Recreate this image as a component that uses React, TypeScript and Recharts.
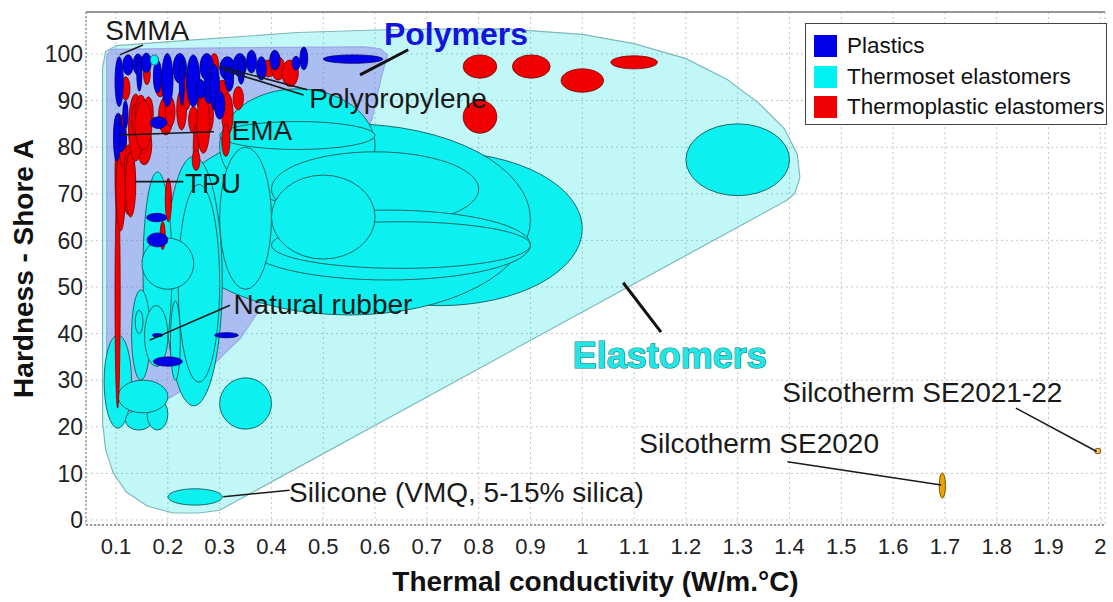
import React from 'react';
import { ScatterChart, Scatter, XAxis, YAxis, CartesianGrid, ReferenceLine } from 'recharts';

// ellipse boxes are [xMin, xMax, yMin, yMax] in data units
type Box = [number, number, number, number];
type Pt = [number, number];

const X_MIN = 0.042;
const X_MAX = 2.009;
const Y_MIN = -1.07;
const Y_MAX = 109;

const xTicks = [0.1, 0.2, 0.3, 0.4, 0.5, 0.6, 0.7, 0.8, 0.9, 1, 1.1, 1.2, 1.3, 1.4, 1.5, 1.6, 1.7, 1.8, 1.9, 2];
const yTicks = [0, 10, 20, 30, 40, 50, 60, 70, 80, 90, 100];

const elastomerHull: Pt[] = [
  [0.074, 97], [0.08, 100.5], [0.1, 101.8], [0.25, 103], [0.45, 104.6], [0.65, 105.3],
  [0.85, 105.4], [1.0, 104.2], [1.1, 102.2], [1.2, 99], [1.28, 94.5], [1.34, 89.5],
  [1.39, 84], [1.415, 78.5], [1.42, 73.5], [1.41, 70], [1.395, 68.6], [0.3, 2.1],
  [0.26, 1.5], [0.21, 1.5], [0.16, 3], [0.12, 6], [0.095, 10], [0.08, 15], [0.074, 21],
];

const polymerHull: Pt[] = [
  [0.082, 99.5], [0.09, 101], [0.3, 101.3], [0.58, 101.5], [0.61, 101.1], [0.624, 99.8],
  [0.612, 95], [0.594, 86], [0.55, 75], [0.5, 66], [0.45, 59], [0.4, 53.6], [0.372, 44.3],
  [0.34, 39], [0.303, 35], [0.26, 30], [0.2, 26], [0.14, 23.5], [0.1, 23], [0.088, 25],
  [0.082, 30],
];

const thermosetBoxes: Box[] = [
  [0.45, 1.0, 46, 79],
  [0.2, 0.9, 44, 85],
  [0.3, 0.6, 68, 92.5],
  [0.3, 0.6, 79.5, 85.5],
  [0.4, 0.8, 63, 79],
  [0.35, 0.9, 51.5, 66.5],
  [0.4, 0.9, 54, 64],
  [0.4, 0.6, 56, 74],
  [0.3, 0.4, 49.5, 80],
  [0.195, 0.305, 24.5, 78],
  [0.22, 0.3, 29.6, 72],
  [0.152, 0.208, 33, 74.7],
  [0.15, 0.25, 49.5, 60.5],
  [0.13, 0.166, 30, 49.4],
  [0.137, 0.152, 40, 45],
  [0.155, 0.2, 33, 46],
  [0.205, 0.224, 30, 47],
  [0.077, 0.13, 19.7, 39.7],
  [0.118, 0.17, 19.3, 23.6],
  [0.16, 0.2, 19.3, 26],
  [0.104, 0.2, 23, 30],
  [0.3, 0.4, 19.5, 30.5],
  [0.2, 0.305, 3.2, 6.7],
  [1.2, 1.4, 69.6, 85],
];

// small thermoset grade sitting on top of the plastics row
const thermosetTopBoxes: Box[] = [[0.166, 0.182, 97.6, 99.8]];

const thermoplasticBoxes: Box[] = [
  [0.098, 0.108, 24, 72],
  [0.098, 0.114, 63.3, 84.8],
  [0.111, 0.137, 65.5, 80.5],
  [0.1, 0.118, 62, 80],
  [0.118, 0.138, 65, 79],
  [0.14, 0.169, 76.2, 84.8],
  [0.105, 0.12, 76, 87],
  [0.124, 0.152, 77, 91.4],
  [0.13, 0.146, 82.6, 89.4],
  [0.11, 0.127, 90.1, 95.1],
  [0.117, 0.132, 95.5, 99.8],
  [0.137, 0.159, 83.7, 91.2],
  [0.153, 0.172, 83.7, 90.8],
  [0.137, 0.169, 79.4, 90.1],
  [0.153, 0.166, 93.4, 98],
  [0.175, 0.195, 90.8, 96.2],
  [0.182, 0.21, 82.6, 90.8],
  [0.195, 0.214, 84.4, 90.8],
  [0.214, 0.227, 95.9, 99.8],
  [0.217, 0.236, 83.7, 92.3],
  [0.228, 0.245, 88, 96],
  [0.24, 0.259, 83, 88.7],
  [0.249, 0.259, 75.5, 84.8],
  [0.256, 0.278, 87.3, 93],
  [0.268, 0.288, 83, 90.8],
  [0.256, 0.281, 78.7, 91.2],
  [0.281, 0.298, 95.1, 100.1],
  [0.294, 0.317, 88, 94.4],
  [0.304, 0.326, 82.6, 91.6],
  [0.304, 0.32, 78, 84.8],
  [0.326, 0.346, 88, 93],
  [0.378, 0.41, 95.1, 98.7],
  [0.4, 0.426, 94.4, 99.4],
  [0.42, 0.452, 93, 98.7],
  [0.397, 0.417, 96.6, 100.5],
  [0.195, 0.207, 64, 73.3],
  [0.247, 0.262, 75, 79.4],
  [0.185, 0.195, 58, 64],
  [0.77, 0.835, 94.8, 99.8],
  [0.865, 0.938, 94.8, 99.8],
  [0.959, 1.041, 91.8, 96.8],
  [1.055, 1.145, 96.8, 99.6],
  [0.77, 0.835, 83, 90],
];

const plasticBoxes: Box[] = [
  [0.098, 0.114, 88.7, 99.4],
  [0.098, 0.111, 82.6, 87.3],
  [0.098, 0.12, 79, 84.8],
  [0.095, 0.108, 77, 87],
  [0.113, 0.133, 95.5, 99.8],
  [0.113, 0.123, 84, 90],
  [0.133, 0.152, 95.5, 100],
  [0.149, 0.168, 96, 100.2],
  [0.14, 0.15, 92, 99.5],
  [0.172, 0.188, 91.6, 98.7],
  [0.188, 0.21, 88.7, 100.1],
  [0.21, 0.236, 93.7, 100.1],
  [0.222, 0.232, 89, 99],
  [0.236, 0.262, 88.7, 99.8],
  [0.262, 0.288, 94.4, 100.1],
  [0.269, 0.288, 89.4, 95.9],
  [0.281, 0.3, 88, 97.7],
  [0.3, 0.33, 94.4, 99.4],
  [0.31, 0.327, 92, 97.3],
  [0.326, 0.352, 95.1, 100.1],
  [0.335, 0.348, 93.5, 99.5],
  [0.352, 0.371, 95.9, 100.8],
  [0.371, 0.39, 94.4, 99.4],
  [0.397, 0.416, 96.6, 100.8],
  [0.44, 0.455, 96.5, 99.5],
  [0.455, 0.47, 96.6, 101.5],
  [0.5, 0.615, 98, 99.8],
  [0.255, 0.272, 90.5, 94.5],
  [0.29, 0.31, 86, 92],
  [0.166, 0.198, 84, 86.5],
  [0.159, 0.198, 64, 65.8],
  [0.16, 0.2, 58.6, 61.6],
  [0.29, 0.336, 39.1, 40.2],
  [0.172, 0.228, 33, 35],
  [0.17, 0.19, 39.3, 40],
];

const silcothermBoxes: Box[] = [
  [1.689, 1.701, 4.7, 10.1],
  [1.989, 2.001, 14.2, 15.4],
];

// leader lines: [x1, y1, x2, y2]
const leaders: [number, number, number, number][] = [
  [0.152, 101.9, 0.107, 99.8],
  [0.3, 97.3, 0.469, 92.3],
  [0.307, 96.6, 0.462, 91.2],
  [0.108, 82.6, 0.289, 83.3],
  [0.137, 72.6, 0.23, 72.6],
  [0.165, 38.6, 0.32, 46.1],
  [0.307, 5.0, 0.435, 6.4],
  [1.396, 12.5, 1.693, 7.5],
  [1.837, 24, 1.993, 14.7],
];
const boldLeaders: [number, number, number, number][] = [
  [0.664, 100.9, 0.571, 95.5],
  [1.079, 50.9, 1.152, 40.3],
];

const annotations = [
  { text: 'SMMA', x: 0.079, y: 105.2 },
  { text: 'Polypropylene', x: 0.473, y: 90.5 },
  { text: 'EMA', x: 0.323, y: 83.7 },
  { text: 'TPU', x: 0.233, y: 72.4 },
  { text: 'Natural rubber', x: 0.3265, y: 46.4 },
  { text: 'Silicone (VMQ, 5-15% silica)', x: 0.434, y: 6.0 },
  { text: 'Silcotherm SE2020', x: 1.11, y: 16.6 },
  { text: 'Silcotherm SE2021-22', x: 1.386, y: 27.5 },
];

const groupLabels = [
  { text: 'Polymers', x: 0.617, y: 104.3 },
  { text: 'Elastomers', x: 1.169, y: 35.4 },
];

const legendItems = [
  { name: 'Plastics', color: '#0000e8' },
  { name: 'Thermoset elastomers', color: '#00f2f2' },
  { name: 'Thermoplastic elastomers', color: '#f00000' },
];

const FONT = '"Liberation Sans", Arial, sans-serif';

const boxPts = (b: Box) => [{ x: b[0], y: b[2] }, { x: b[1], y: b[3] }];
const noDot = () => <g />;

const ellipseLine = (fill: string, stroke: string, sw: number) => (p: any) => {
  const [a, b] = p.points;
  return (
    <ellipse
      cx={(a.x + b.x) / 2}
      cy={(a.y + b.y) / 2}
      rx={Math.abs(b.x - a.x) / 2}
      ry={Math.abs(b.y - a.y) / 2}
      fill={fill}
      stroke={stroke}
      strokeWidth={sw}
    />
  );
};

const hullLine = (fill: string, opacity: number, stroke: string) => (p: any) => {
  const d = p.points.map((q: any, i: number) => `${i ? 'L' : 'M'}${q.x},${q.y}`).join(' ') + ' Z';
  return <path d={d} fill={fill} fillOpacity={opacity} stroke={stroke} strokeWidth={1.2} />;
};

const fmt = (v: number) => String(Math.round(v * 10) / 10);

const CYAN = ['#0cf0f0', '#1b6a6c', 1] as const;
const RED = ['#f00000', '#7a0000', 0.8] as const;
const BLUE = ['#0000e8', '#00006a', 0.8] as const;

export default function App() {
  return (
    <div style={{ position: 'absolute', left: 0, top: 0, width: 1113, height: 602, background: '#fff', fontFamily: FONT }}>
      <ScatterChart width={1113} height={602} margin={{ top: 12, right: 8, bottom: 0, left: 0 }}>
        <CartesianGrid stroke="#c6c6c6" strokeDasharray="2 3" />
        <XAxis
          type="number"
          dataKey="x"
          domain={[X_MIN, X_MAX]}
          ticks={xTicks}
          interval={0}
          allowDataOverflow
          tickFormatter={fmt}
          tickSize={0}
          tickMargin={13}
          tick={{ fontSize: 22, fill: '#222', fontFamily: FONT }}
          axisLine={{ stroke: '#999', strokeWidth: 2, strokeDasharray: '2 2' }}
          height={77}
          label={{
            content: (p: any) => {
              const vb = p.viewBox;
              return (
                <text x={vb.x + vb.width / 2} y={vb.y + vb.height - 11} textAnchor="middle" fontSize={28} fontWeight="bold" fill="#111" fontFamily={FONT}>
                  Thermal conductivity (W/m.°C)
                </text>
              );
            },
          }}
        />
        <YAxis
          type="number"
          dataKey="y"
          domain={[Y_MIN, Y_MAX]}
          ticks={yTicks}
          interval={0}
          allowDataOverflow
          tickSize={0}
          tickMargin={3}
          tick={{ fontSize: 23, fill: '#222', fontFamily: FONT }}
          axisLine={{ stroke: '#999', strokeWidth: 1.5, strokeDasharray: '2 2' }}
          width={86}
          label={{
            content: (p: any) => {
              const vb = p.viewBox;
              const cx = vb.x + 23;
              const cy = vb.y + vb.height / 2;
              return (
                <text x={cx} y={cy} dy="0.36em" transform={`rotate(-90 ${cx} ${cy})`} textAnchor="middle" fontSize={28} fontWeight="bold" fill="#111" fontFamily={FONT}>
                  Hardness - Shore A
                </text>
              );
            },
          }}
        />
        <ReferenceLine y={Y_MAX} stroke="#777" strokeWidth={1.5} />

        <Scatter
          data={elastomerHull.map(([x, y]) => ({ x, y }))}
          shape={noDot}
          line={hullLine('#00dede', 0.24, '#7fb8ba')}
          isAnimationActive={false}
        />
        <Scatter
          data={polymerHull.map(([x, y]) => ({ x, y }))}
          shape={noDot}
          line={hullLine('#835ae8', 0.36, '#9aa8e4')}
          isAnimationActive={false}
        />

        {thermosetBoxes.map((b, i) => (
          <Scatter key={`ts${i}`} data={boxPts(b)} shape={noDot} line={ellipseLine(...CYAN)} isAnimationActive={false} />
        ))}
        {thermoplasticBoxes.map((b, i) => (
          <Scatter key={`tp${i}`} data={boxPts(b)} shape={noDot} line={ellipseLine(...RED)} isAnimationActive={false} />
        ))}
        {plasticBoxes.map((b, i) => (
          <Scatter key={`pl${i}`} data={boxPts(b)} shape={noDot} line={ellipseLine(...BLUE)} isAnimationActive={false} />
        ))}
        {thermosetTopBoxes.map((b, i) => (
          <Scatter key={`tt${i}`} data={boxPts(b)} shape={noDot} line={ellipseLine(...CYAN)} isAnimationActive={false} />
        ))}
        {silcothermBoxes.map((b, i) => (
          <Scatter key={`sc${i}`} data={boxPts(b)} shape={noDot} line={ellipseLine(i ? '#f6c068' : '#eea400', '#7a5200', 1)} isAnimationActive={false} />
        ))}

        {leaders.map((l, i) => (
          <Scatter key={`ld${i}`} data={[{ x: l[0], y: l[1] }, { x: l[2], y: l[3] }]} shape={noDot} line={{ stroke: '#1a1a1a', strokeWidth: 1.6 }} isAnimationActive={false} />
        ))}
        {boldLeaders.map((l, i) => (
          <Scatter key={`bl${i}`} data={[{ x: l[0], y: l[1] }, { x: l[2], y: l[3] }]} shape={noDot} line={{ stroke: '#111', strokeWidth: 3 }} isAnimationActive={false} />
        ))}

        {annotations.map((a, i) => (
          <Scatter
            key={`an${i}`}
            data={[{ x: a.x, y: a.y }]}
            isAnimationActive={false}
            shape={(p: any) => (
              <text x={p.cx} y={p.cy} dy="0.36em" fontSize={28} fill="#1a1a1a" fontFamily={FONT}>
                {a.text}
              </text>
            )}
          />
        ))}
        {groupLabels.map((g, i) => (
          <Scatter
            key={`gl${i}`}
            data={[{ x: g.x, y: g.y }]}
            isAnimationActive={false}
            shape={(p: any) =>
              i === 0 ? (
                <text x={p.cx} y={p.cy} dy="0.36em" fontSize={32} fontWeight="bold" fill="#1414dc" fontFamily={FONT}>
                  {g.text}
                </text>
              ) : (
                <text x={p.cx} y={p.cy} dy="0.36em" textAnchor="middle" fontSize={36} fontWeight="bold" fill="#22e6e6" stroke="#157a7c" strokeWidth={1.2} paintOrder="stroke" fontFamily={FONT}>
                  {g.text}
                </text>
              )
            }
          />
        ))}
      </ScatterChart>

      <div
        style={{
          position: 'absolute',
          left: 805,
          top: 23,
          width: 302,
          height: 102,
          border: '1.5px solid #444',
          background: '#fff',
          boxSizing: 'border-box',
          padding: '7px 0 0 8px',
        }}
      >
        {legendItems.map((it) => (
          <div key={it.name} style={{ display: 'flex', alignItems: 'center', height: 30.5, fontSize: 22.5, color: '#111', lineHeight: '30px' }}>
            <span style={{ display: 'inline-block', width: 23, height: 22, background: it.color, marginRight: 10 }} />
            {it.name}
          </div>
        ))}
      </div>
    </div>
  );
}
